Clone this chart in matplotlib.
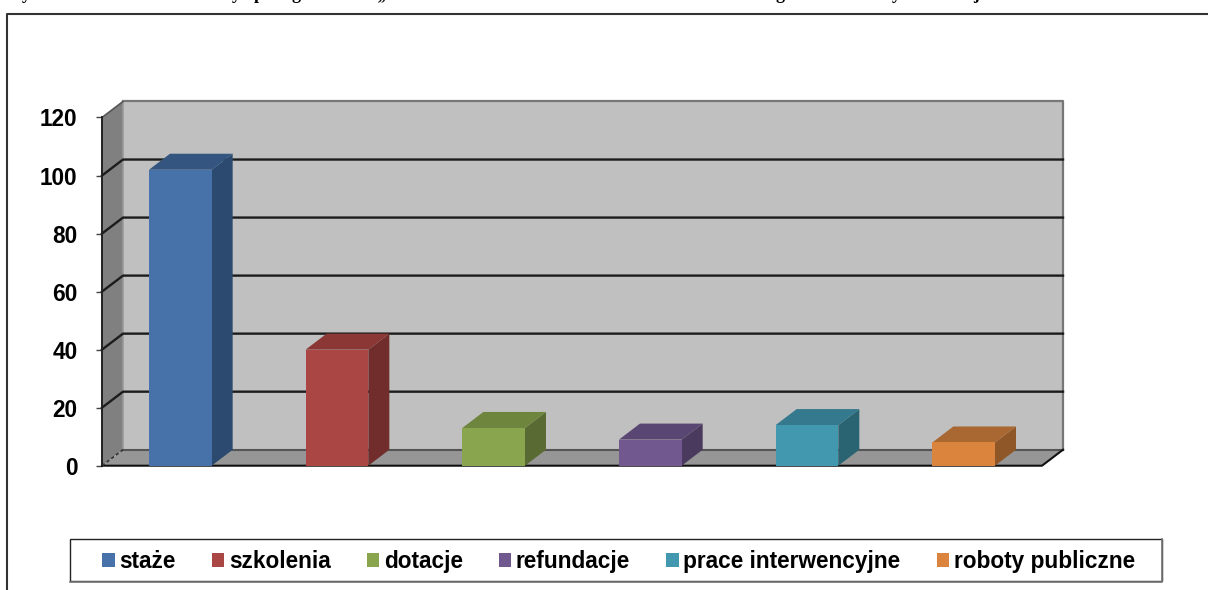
import matplotlib
matplotlib.use('Agg')
import matplotlib.pyplot as plt
from matplotlib.lines import Line2D
from matplotlib.patches import Patch, Rectangle

# Values
categories = ['staże', 'szkolenia', 'dotacje', 'refundacje', 'prace interwencyjne', 'roboty publiczne']
values = [102, 40, 13, 9, 14, 8]
y_ticks = [0, 20, 40, 60, 80, 100, 120]

# front, side, top shades of each bar
front_colors = ['#4672A9', '#AA4643', '#89A54E', '#71588F', '#4198AF', '#DB843D']
side_colors = ['#2C4A6F', '#712D2B', '#596B33', '#4A3A5E', '#2A6473', '#8F5628']
top_colors = ['#33557F', '#8A3735', '#6E853E', '#5A4672', '#34798D', '#A96731']

# only the bottoms of the caption letters survive at the top edge of the page
caption_bits = ['y', 'y', 'p', 'g', ',,', 'g', 'y', 'j']
caption_x = [22, 232, 254, 292, 378, 776, 892, 973]

W, H = 1208, 590
plt.rcParams['font.family'] = ['Liberation Sans', 'DejaVu Sans']
plt.rcParams['font.weight'] = 'bold'

fig = plt.figure(figsize=(W / 100, H / 100), dpi=100, facecolor='white')

# axes box = front plane of the 3D chart, in pixels
left, right, top, bottom = 102, 1042, 117.5, 465.7
ax = fig.add_axes([left / W, 1 - bottom / H, (right - left) / W, (bottom - top) / H])
ax.set_xlim(-0.5, 5.5)
ax.set_ylim(0, 120)
ax.patch.set_visible(False)
for s in ax.spines.values():
    s.set_visible(False)

# depth of the box, in data units
dx = 21 / ((right - left) / 6)
dy = 16 / ((bottom - top) / 120)
x0, x1 = -0.5, 5.5

# walls and floor
ax.fill([x0 + dx, x1 + dx, x1 + dx, x0 + dx], [dy, dy, 120 + dy, 120 + dy], color='#C0C0C0', lw=0, zorder=1, clip_on=False)
ax.fill([x0, x0 + dx, x0 + dx, x0], [0, dy, 120 + dy, 120], color='#808080', lw=0, zorder=1, clip_on=False)
ax.fill([x0, x1, x1 + dx, x0 + dx], [0, 0, dy, dy], color='#969696', lw=0, zorder=1, clip_on=False)

# wall edges
ax.plot([x0 + dx, x1 + dx, x1 + dx], [120 + dy, 120 + dy, dy], color='#777777', lw=1.6, zorder=2, clip_on=False)
ax.plot([x0 + dx, x0 + dx], [dy, 120 + dy], color='#999999', lw=1.2, zorder=2, clip_on=False)
ax.plot([x0, x0 + dx], [120, 120 + dy], color='#555555', lw=1.2, zorder=2, clip_on=False)
ax.plot([x0 + dx, x1 + dx], [dy, dy], color='#555555', lw=1.5, zorder=2, clip_on=False)

# gridlines
for t in y_ticks[1:-1]:
    ax.plot([x0, x0 + dx, x1 + dx], [t, t + dy, t + dy], color='#1C1C1C', lw=1.7, zorder=2, clip_on=False)

# axis lines
ax.plot([x0, x0], [0, 120], color='#222222', lw=1.4, zorder=3, clip_on=False)
ax.plot([x0, x1, x1 + dx], [0, 0, dy], color='#111111', lw=1.5, zorder=3, clip_on=False)
ax.plot([x0, x0 + dx], [0, dy], color='#333333', lw=1.2, ls=(0, (2, 1.5)), zorder=3, clip_on=False)

# bars
w = 0.4
xs = list(range(len(values)))
ax.bar(xs, values, width=w, color=front_colors, lw=0, zorder=5)
for x, v, cs, ct in zip(xs, values, side_colors, top_colors):
    xl, xr = x - w / 2, x + w / 2
    ax.fill([xr, xr + dx, xr + dx, xr], [0, dy, v + dy, v], color=cs, lw=0, zorder=4, clip_on=False)
    ax.fill([xl, xr, xr + dx, xl + dx], [v, v, v + dy, v + dy], color=ct, lw=0, zorder=4, clip_on=False)

ax.set_xticks([])
ax.set_yticks(y_ticks)
ax.tick_params(axis='y', length=4.3, width=1, color='#444444', labelsize=16.3, pad=13.5)

# outer frame of the chart, runs off the page to the right and bottom
fig.add_artist(Line2D([7.5 / W, 7.5 / W, 1], [0, 1 - 13.5 / H, 1 - 13.5 / H], color='#333333', lw=1.5))

# legend box + legend
fig.add_artist(Rectangle((69.5 / W, 1 - 581 / H), 1092 / W, 42 / H, transform=fig.transFigure,
                         facecolor='white', edgecolor='#222222', lw=1))
fig.add_artist(Line2D([69.5 / W, 1161.5 / W, 1161.5 / W], [1 - 581.5 / H, 1 - 581.5 / H, 1 - 539 / H], color='#777777', lw=1.2))
handles = [Patch(facecolor=c, edgecolor='none', label=n) for c, n in zip(front_colors, categories)]
fig.legend(handles=handles, ncol=6, loc='center', bbox_to_anchor=(618.5 / W, 1 - 561.5 / H), frameon=False,
           fontsize=16.3, handlelength=0.55, handleheight=0.55, handletextpad=0.2, columnspacing=1.6,
           borderpad=0, borderaxespad=0)

# caption cut off by the top of the page
for t, x in zip(caption_bits, caption_x):
    fig.text(x / W, 1 + 1 / H, t, family='Liberation Serif', fontsize=13, ha='left', va='baseline')

fig.savefig('out.png', dpi=100)
